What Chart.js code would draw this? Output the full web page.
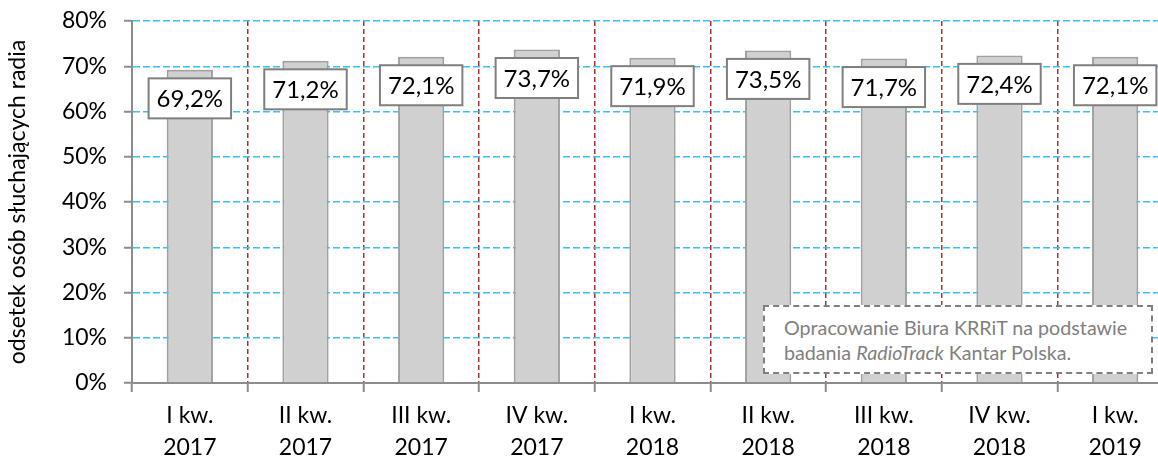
<!DOCTYPE html>
<html>
<head>
<meta charset="utf-8">
<script src="https://cdn.jsdelivr.net/npm/chart.js@4"></script>
<style>
  html, body { margin: 0; padding: 0; background: #fff; overflow: hidden; }
  #wrap { position: relative; width: 1158px; height: 461px; overflow: hidden; }
  #note {
    position: absolute; left: 763px; top: 305px; width: 386px; height: 65px;
    border: 2px dashed #7f7f7f; background: #fff; box-sizing: content-box;
    font-family: Lato, sans-serif; font-size: 19.7px; color: #808080; line-height: 25px;
  }
  #note div { padding: 8px 0 0 19px; white-space: nowrap; }
</style>
</head>
<body>
<div id="wrap">
  <canvas id="radioChart" width="1176" height="461"></canvas>
  <div id="note"><div>Opracowanie Biura KRRiT na podstawie<br>badania <i>RadioTrack</i> Kantar Polska.</div></div>
</div>
<script>
// quarters and listening share (%)
const quarters = [
    ['I kw.', '2017'], ['II kw.', '2017'], ['III kw.', '2017'], ['IV kw.', '2017'],
    ['I kw.', '2018'], ['II kw.', '2018'], ['III kw.', '2018'], ['IV kw.', '2018'],
    ['I kw.', '2019']
];
const listeners = [69.2, 71.2, 72.1, 73.7, 71.9, 73.5, 71.7, 72.4, 72.1];
const yTicks = [0, 10, 20, 30, 40, 50, 60, 70, 80];

const FONT = 'Lato, sans-serif';

// white boxed value labels sitting just under the bar tops
const boxLabels = {
    id: 'boxLabels',
    afterDatasetsDraw(chart) {
        const ctx = chart.ctx;
        const meta = chart.getDatasetMeta(0);
        ctx.save();
        ctx.font = '24px ' + FONT;
        ctx.textAlign = 'center';
        ctx.textBaseline = 'middle';
        meta.data.forEach(function (bar, i) {
            const txt = listeners[i].toFixed(1).replace('.', ',') + '%';
            const w = ctx.measureText(txt).width + 16;
            const h = 40;
            const cy = bar.y + 28.5;
            ctx.fillStyle = '#fff';
            ctx.fillRect(bar.x - w / 2, cy - h / 2, w, h);
            ctx.lineWidth = 2;
            ctx.strokeStyle = '#7f7f7f';
            ctx.strokeRect(bar.x - w / 2, cy - h / 2, w, h);
            ctx.fillStyle = '#000';
            ctx.fillText(txt, bar.x, cy + 1);
        });
        ctx.restore();
    }
};

const ctx = document.getElementById('radioChart').getContext('2d');

new Chart(ctx, {
    type: 'bar',
    data: {
        labels: quarters,
        datasets: [{
            data: listeners,
            backgroundColor: '#d0d0d0',
            borderColor: '#a0a0a0',
            borderWidth: 2,
            categoryPercentage: 1,
            barPercentage: 0.4
        }]
    },
    options: {
        responsive: false,
        animation: false,
        layout: { padding: { top: 21, right: 3, left: 0, bottom: 0 } },
        plugins: {
            legend: { display: false },
            tooltip: { enabled: false }
        },
        scales: {
            x: {
                offset: true,
                grid: {
                    offset: true,
                    color: function (c) { return c.index === 0 ? 'rgba(0,0,0,0)' : '#a83232'; },
                    lineWidth: 1.5,
                    tickLength: 9,
                    tickColor: '#8c8c8c',
                    tickWidth: 2,
                    tickBorderDash: []
                },
                border: { color: '#8c8c8c', width: 2, dash: [5, 3] },
                ticks: {
                    color: '#000',
                    font: { family: FONT, size: 23, lineHeight: 1.4 },
                    padding: 7,
                    maxRotation: 0
                },
                afterFit: function (scale) { scale.height = 78; }
            },
            y: {
                min: 0,
                max: 80,
                afterBuildTicks: function (scale) {
                    scale.ticks = yTicks.map(function (v) { return { value: v }; });
                },
                grid: {
                    color: function (c) { return c.tick && c.tick.value === 0 ? 'rgba(0,0,0,0)' : '#33c3f5'; },
                    lineWidth: 1.5,
                    tickLength: 8,
                    tickColor: '#8c8c8c',
                    tickWidth: 2,
                    tickBorderDash: []
                },
                border: { color: '#8c8c8c', width: 2, dash: [7, 3] },
                ticks: {
                    color: '#000',
                    font: { family: FONT, size: 23 },
                    padding: 17,
                    callback: function (v) { return v + '%'; }
                },
                title: {
                    display: true,
                    text: 'odsetek osób słuchających radia',
                    color: '#000',
                    font: { family: FONT, size: 23 },
                    padding: { top: 4, bottom: 0 }
                },
                afterFit: function (scale) {
                    scale.width = 132;
                    scale.paddingTop = 0;
                    scale.paddingBottom = 0;
                }
            }
        }
    },
    plugins: [boxLabels]
});
</script>
</body>
</html>
